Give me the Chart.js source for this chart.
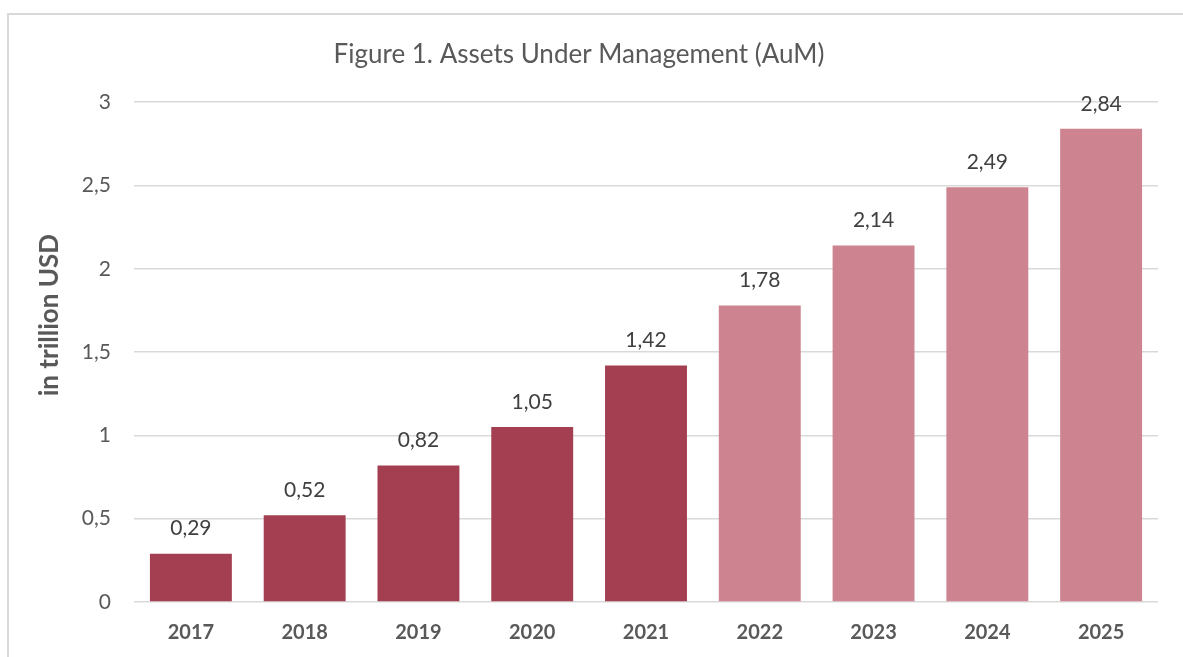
<!DOCTYPE html>
<html>
<head>
<meta charset="utf-8">
<script src="https://cdn.jsdelivr.net/npm/chart.js@4"></script>
<style>
  html, body { margin: 0; padding: 0; background: #fff; }
  body { width: 1183px; height: 657px; overflow: hidden; position: relative; }
  .frame { position: absolute; left: 7px; top: 13px; width: 1200px; height: 700px; border: 2px solid #d9d9d9; box-sizing: border-box; }
  #aumChart { position: absolute; left: 0; top: 0; }
</style>
</head>
<body>
<div class="frame"></div>
<canvas id="aumChart" width="1183" height="657"></canvas>
<script>
var years = ['2017', '2018', '2019', '2020', '2021', '2022', '2023', '2024', '2025'];
var aum = [0.29, 0.52, 0.82, 1.05, 1.42, 1.78, 2.14, 2.49, 2.84];
var barColors = ['#A43F51', '#A43F51', '#A43F51', '#A43F51', '#A43F51', '#CE8490', '#CE8490', '#CE8490', '#CE8490'];
var yTitle = 'in trillion USD';

var FONT = "Lato, 'Open Sans', sans-serif";

function fmt(v) {
    return String(v).replace('.', ',');
}

// values above the bars + axis title (sits a bit above the middle, like the original)
var valueLabels = {
    id: 'valueLabels',
    afterDatasetsDraw: function (chart) {
        var ctx = chart.ctx;
        var meta = chart.getDatasetMeta(0);
        var area = chart.chartArea;
        ctx.save();
        ctx.font = '21px ' + FONT;
        ctx.fillStyle = '#404040';
        ctx.textAlign = 'center';
        ctx.textBaseline = 'middle';
        meta.data.forEach(function (bar, i) {
            ctx.fillText(fmt(aum[i]), bar.x, bar.y - 25);
        });

        ctx.translate(50, (area.top + area.bottom) / 2 - 37);
        ctx.rotate(-Math.PI / 2);
        ctx.font = 'bold 26px ' + FONT;
        ctx.fillStyle = '#595959';
        ctx.fillText(yTitle, 0, 0);
        ctx.restore();
    }
};

var ctx = document.getElementById('aumChart').getContext('2d');
var aumChart = new Chart(ctx, {
    type: 'bar',
    data: {
        labels: years,
        datasets: [{
            data: aum,
            backgroundColor: barColors,
            borderWidth: 0,
            barPercentage: 1,
            categoryPercentage: 0.72
        }]
    },
    options: {
        responsive: false,
        animation: false,
        devicePixelRatio: 1,
        layout: { padding: { left: 0, right: 25, top: 22, bottom: 12 } },
        plugins: {
            legend: { display: false },
            tooltip: { enabled: false },
            title: {
                display: true,
                text: 'Figure 1. Assets Under Management (AuM)',
                color: '#595959',
                font: { family: FONT, size: 26, weight: 'normal' },
                padding: { top: 17, bottom: 32 }
            }
        },
        scales: {
            x: {
                afterFit: function (scale) { scale.height = 43; },
                grid: { display: false, drawTicks: false },
                border: { display: false },
                ticks: {
                    color: '#595959',
                    font: { family: FONT, size: 20, weight: 'bold' },
                    padding: 19
                }
            },
            y: {
                min: 0,
                max: 3,
                afterFit: function (scale) { scale.width = 134; },
                grid: { color: '#d9d9d9', lineWidth: 1.5, drawTicks: false },
                border: { display: false },
                ticks: {
                    stepSize: 0.5,
                    color: '#595959',
                    font: { family: FONT, size: 21 },
                    padding: 23,
                    callback: function (v) { return fmt(v); }
                }
            }
        }
    },
    plugins: [valueLabels]
});
</script>
</body>
</html>
